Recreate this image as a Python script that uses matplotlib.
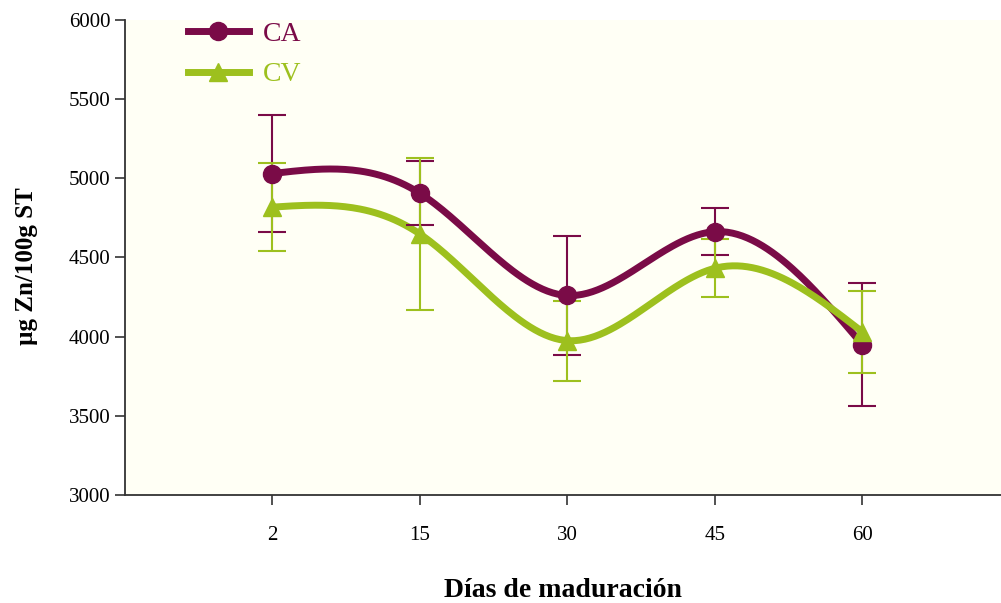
import numpy as np
import matplotlib
matplotlib.use("Agg")
import matplotlib.pyplot as plt
from matplotlib.lines import Line2D

days = ["2", "15", "30", "45", "60"]
ca_vals = [5030, 4905, 4260, 4663, 3950]
ca_err = [368, 202, 373, 148, 390]
cv_vals = [4818, 4648, 3975, 4432, 4030]
cv_err = [280, 480, 252, 182, 258]
yticks = [3000, 3500, 4000, 4500, 5000, 5500, 6000]

CA_COL = "#7A0B47"
CV_COL = "#9DC01E"

plt.rcParams['font.family'] = ['Liberation Serif', 'DejaVu Serif']

fig = plt.figure(figsize=(10.01, 6.03), dpi=100)
ax = fig.add_axes([0.1249, 0.179, 0.8751, 0.788])
ax.set_facecolor("#FFFFF5")
fig.patch.set_facecolor("white")

x = np.arange(1, len(days) + 1)


def natural_spline(xs, ys, n=60):
    xs = np.asarray(xs, float)
    ys = np.asarray(ys, float)
    m = len(xs)
    h = np.diff(xs)
    A = np.zeros((m, m))
    r = np.zeros(m)
    A[0, 0] = 1
    A[-1, -1] = 1
    for i in range(1, m - 1):
        A[i, i - 1] = h[i - 1]
        A[i, i] = 2 * (h[i - 1] + h[i])
        A[i, i + 1] = h[i]
        r[i] = 6 * ((ys[i + 1] - ys[i]) / h[i] - (ys[i] - ys[i - 1]) / h[i - 1])
    M = np.linalg.solve(A, r)
    ox, oy = [], []
    for i in range(m - 1):
        t = np.linspace(xs[i], xs[i + 1], n)
        a = xs[i + 1] - t
        b = t - xs[i]
        y = (M[i] * a ** 3 + M[i + 1] * b ** 3) / (6 * h[i]) \
            + (ys[i] / h[i] - M[i] * h[i] / 6) * a + (ys[i + 1] / h[i] - M[i + 1] * h[i] / 6) * b
        ox.extend(t); oy.extend(y)
    return np.array(ox), np.array(oy)


for vals, err, col, mk in [(ca_vals, ca_err, CA_COL, 'o'), (cv_vals, cv_err, CV_COL, '^')]:
    sx, sy = natural_spline(x, vals)
    ax.plot(sx, sy, color=col, lw=5, solid_capstyle='round', zorder=3)
    ax.errorbar(x, vals, yerr=err, fmt='none', ecolor=col, elinewidth=1.5,
                capsize=10, capthick=1.5, zorder=4)
    ax.plot(x, vals, linestyle='none', marker=mk, color=col, markersize=13, zorder=5)

ax.set_xlim(0, 5.94)
ax.set_ylim(3000, 6000)
ax.set_xticks(x)
ax.set_xticklabels(days)
ax.set_yticks(yticks)
ax.tick_params(axis='both', labelsize=15, direction='out', length=7, width=1.2, color='#333333')
ax.tick_params(axis='x', pad=15)
for s in ['top', 'right']:
    ax.spines[s].set_visible(False)
for s in ['left', 'bottom']:
    ax.spines[s].set_color('#333333')
    ax.spines[s].set_linewidth(1.3)

ax.set_ylabel("µg Zn/100g ST", fontsize=18, fontweight='bold')
ax.yaxis.set_label_coords(-0.099, 0.482)
ax.set_xlabel("Días de maduración", fontsize=20, fontweight='bold', labelpad=24)

handles = [Line2D([], [], color=CA_COL, lw=5, marker='o', markersize=13),
           Line2D([], [], color=CV_COL, lw=5, marker='^', markersize=13)]
leg = ax.legend(handles, ["CA", "CV"], loc='upper left', bbox_to_anchor=(0.043, 1.05),
                frameon=False, fontsize=20, handlelength=2.2, labelspacing=0.55, handletextpad=0.5)
for t, c in zip(leg.get_texts(), [CA_COL, CV_COL]):
    t.set_color(c)

fig.savefig("out.png", dpi=100)
